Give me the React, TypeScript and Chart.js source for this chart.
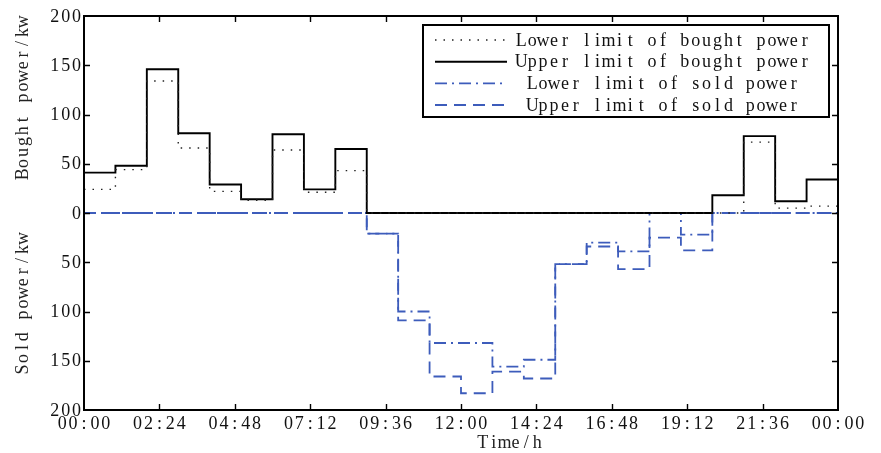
import React, { useEffect, useRef } from 'react';
import { Chart, registerables } from 'chart.js';

Chart.register(...registerables);

// hourly intervals (start hour of each step)
const hourStarts = [0, 1, 2, 3, 4, 5, 6, 7, 8, 9, 10, 11, 12, 13, 14, 15, 16, 17, 18, 19, 20, 21, 22, 23];
const dayEnd = 24;

const boughtLower = [24, 44, 134, 66, 22, 13, 64, 21, 43, 0, 0, 0, 0, 0, 0, 0, 0, 0, 0, 0, 0, 72, 5, 7];
const boughtUpper = [41, 48, 146, 81, 29, 14, 80, 24, 65, 0, 0, 0, 0, 0, 0, 0, 0, 0, 0, 0, 18, 78, 12, 34];
const soldLower = [0, 0, 0, 0, 0, 0, 0, 0, 0, 21, 100, 132, 132, 156, 149, 52, 30, 39, 0, 22, 0, 0, 0, 0];
const soldUpper = [0, 0, 0, 0, 0, 0, 0, 0, 0, 21, 109, 166, 183, 161, 168, 52, 34, 57, 25, 38, 0, 0, 0, 0];

const xTickValues = [0, 2.4, 4.8, 7.2, 9.6, 12, 14.4, 16.8, 19.2, 21.6, 24];
const xTickLabels = ['00:00', '02:24', '04:48', '07:12', '09:36', '12:00', '14:24', '16:48', '19:12', '21:36', '00:00'];
const yTickValues = [-200, -150, -100, -50, 0, 50, 100, 150, 200];

const seriesNames = [
  'Lower limit of bought power',
  'Upper limit of bought power',
  'Lower limit of sold power',
  'Upper limit of sold power',
];

const FONT = "'Liberation Serif', 'DejaVu Serif', serif";
const ADV = 10.9;
const BLUE = '#3d5cbb';

const toSteps = (vals: number[], sign: number) =>
  [...hourStarts, dayEnd].map((h, i) => ({ x: h, y: sign * vals[Math.min(i, vals.length - 1)] }));

const styles = [
  { color: '#222', width: 1.4, dash: [1.5, 7] },
  { color: '#000', width: 1.9, dash: [] as number[] },
  { color: BLUE, width: 1.8, dash: [12, 5, 2, 5] },
  { color: BLUE, width: 1.8, dash: [12, 7] },
];

// draw text as fixed-width cells (half-width serif look)
function drawMono(ctx: CanvasRenderingContext2D, text: string, x: number, y: number, align: 'left' | 'center' | 'right') {
  const total = text.length * ADV;
  const start = align === 'center' ? x - total / 2 : align === 'right' ? x - total : x;
  ctx.textAlign = 'center';
  ctx.textBaseline = 'middle';
  for (let i = 0; i < text.length; i++) {
    ctx.fillText(text[i], start + (i + 0.5) * ADV, y);
  }
}

const decorPlugin = {
  id: 'decor',
  afterDraw(chart: any) {
    const { ctx, chartArea } = chart;
    const { left, right, top, bottom } = chartArea;
    const xs = chart.scales.x;
    const ys = chart.scales.y;
    ctx.save();
    // frame
    ctx.strokeStyle = '#000';
    ctx.lineWidth = 2;
    ctx.setLineDash([]);
    ctx.strokeRect(left, top, right - left, bottom - top);
    // inward tick marks
    const tl = 6;
    ctx.lineWidth = 1.4;
    ctx.beginPath();
    xTickValues.slice(1, -1).forEach((v) => {
      const px = Math.round(xs.getPixelForValue(v)) + 0.5;
      ctx.moveTo(px, bottom);
      ctx.lineTo(px, bottom - tl);
      ctx.moveTo(px, top);
      ctx.lineTo(px, top + tl);
    });
    yTickValues.slice(1, -1).forEach((v) => {
      const py = Math.round(ys.getPixelForValue(v)) + 0.5;
      ctx.moveTo(left, py);
      ctx.lineTo(left + tl, py);
      ctx.moveTo(right, py);
      ctx.lineTo(right - tl, py);
    });
    ctx.stroke();

    ctx.font = `18px ${FONT}`;
    ctx.fillStyle = '#111';
    // tick labels from the scales
    xTickValues.forEach((v, i) => {
      drawMono(ctx, xTickLabels[i], xs.getPixelForValue(v), 424, 'center');
    });
    yTickValues.forEach((v) => {
      drawMono(ctx, String(Math.abs(v)), 82, ys.getPixelForValue(v) + 1, 'right');
    });

    // axis titles
    ctx.fillStyle = '#222';
    drawMono(ctx, 'Time/h', 510, 443, 'center');
    ctx.save();
    ctx.translate(23, 98);
    ctx.rotate(-Math.PI / 2);
    drawMono(ctx, 'Bought power/kw', 0, 0, 'center');
    ctx.restore();
    ctx.save();
    ctx.translate(23, 304);
    ctx.rotate(-Math.PI / 2);
    drawMono(ctx, 'Sold power/kw', 0, 0, 'center');
    ctx.restore();

    // legend
    const bx = 423, by = 25, bw = 406, bh = 92;
    ctx.fillStyle = '#fff';
    ctx.fillRect(bx, by, bw, bh);
    ctx.strokeStyle = '#000';
    ctx.lineWidth = 2;
    ctx.strokeRect(bx, by, bw, bh);
    const rows = [40, 61.7, 83.3, 105];
    seriesNames.forEach((name, i) => {
      const st = styles[i];
      ctx.strokeStyle = st.color;
      ctx.lineWidth = st.width;
      ctx.setLineDash(st.dash);
      ctx.beginPath();
      ctx.moveTo(435, rows[i]);
      ctx.lineTo(507, rows[i]);
      ctx.stroke();
      ctx.setLineDash([]);
      ctx.fillStyle = '#111';
      drawMono(ctx, name, 663, rows[i] + 1, 'center');
    });
    ctx.restore();
  },
};

export default function App() {
  const canvasRef = useRef<HTMLCanvasElement | null>(null);

  useEffect(() => {
    if (!canvasRef.current) return;
    const seriesData = [
      toSteps(boughtLower, 1),
      toSteps(boughtUpper, 1),
      toSteps(soldLower, -1),
      toSteps(soldUpper, -1),
    ];
    const chart = new Chart(canvasRef.current, {
      type: 'line',
      data: {
        datasets: seriesNames.map((name, i) => ({
          label: name,
          data: seriesData[i],
          borderColor: styles[i].color,
          borderWidth: styles[i].width,
          borderDash: styles[i].dash,
          stepped: 'before' as const,
          pointRadius: 0,
          fill: false,
        })),
      },
      options: {
        animation: false,
        responsive: false,
        layout: { padding: { left: 0, top: 16, right: 43, bottom: 0 } },
        plugins: { legend: { display: false }, tooltip: { enabled: false } },
        scales: {
          x: {
            type: 'linear',
            min: 0,
            max: 24,
            afterBuildTicks: (s: any) => {
              s.ticks = xTickValues.map((v) => ({ value: v }));
            },
            afterFit: (s: any) => {
              s.height = 43;
            },
            ticks: { display: false },
            grid: { display: false, drawTicks: false },
            border: { display: false },
          },
          y: {
            type: 'linear',
            min: -200,
            max: 200,
            afterBuildTicks: (s: any) => {
              s.ticks = yTickValues.map((v) => ({ value: v }));
            },
            afterFit: (s: any) => {
              s.width = 84;
            },
            ticks: { display: false },
            grid: { display: false, drawTicks: false },
            border: { display: false },
          },
        },
      },
      plugins: [decorPlugin],
    });
    return () => chart.destroy();
  }, []);

  return (
    <div style={{ position: 'fixed', left: 0, top: 0, width: 881, height: 453, background: '#fff' }}>
      <canvas ref={canvasRef} width={881} height={453} />
    </div>
  );
}
